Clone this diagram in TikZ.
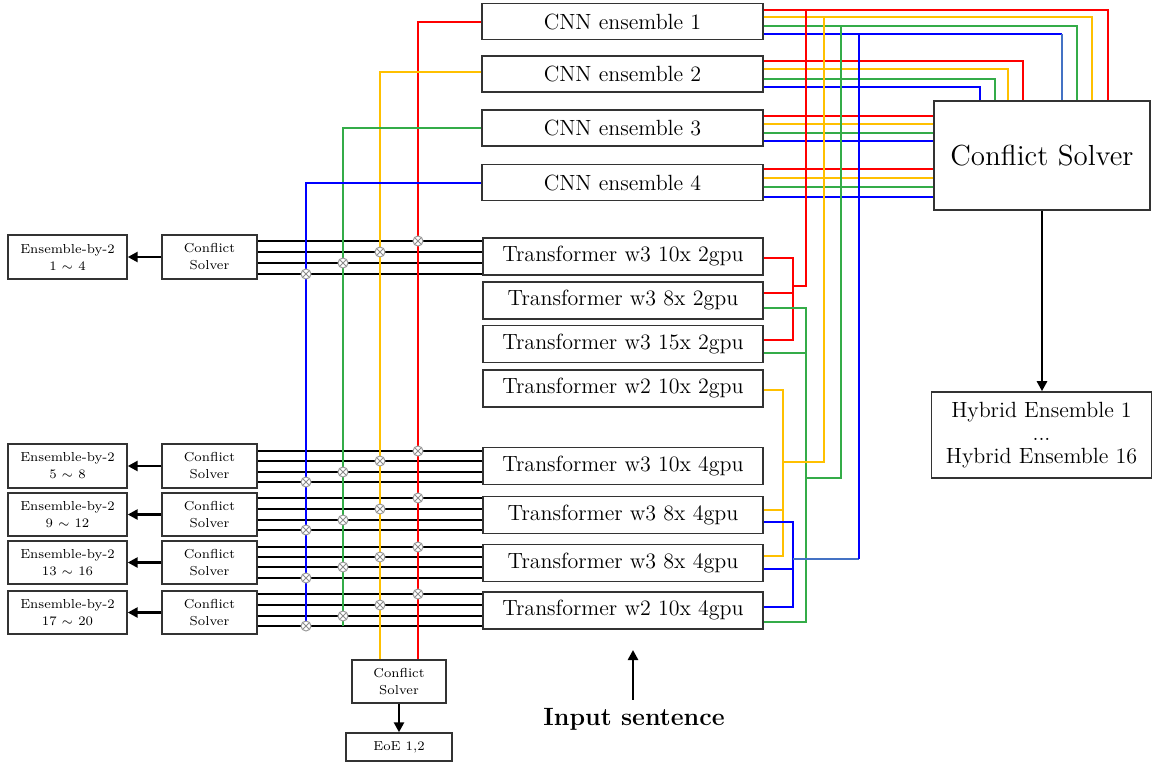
\documentclass[tikz,border=0pt]{standalone}
\usetikzlibrary{arrows.meta}
\definecolor{cred}{RGB}{255,0,0}
\definecolor{cyel}{RGB}{255,192,0}
\definecolor{cgrn}{RGB}{52,172,72}
\definecolor{cblu}{RGB}{0,0,255}
\definecolor{cblu2}{RGB}{68,114,196}
\begin{document}
\begin{tikzpicture}[x=0.5pt,y=-0.5pt,
  box/.style={draw=black!80, line width=0.8pt, inner sep=0pt, align=center, font=\fontsize{11}{12.5}\selectfont},
  sbox/.style={draw=black!80, line width=0.7pt, inner sep=0pt, align=center, font=\fontsize{6.5}{8.5}\selectfont},
  wire/.style={line width=1pt, black},
  cw/.style={line width=1pt},
  arr/.style={line width=1.3pt, -{Triangle[length=5pt,width=5pt]}},
  xdot/.style={circle, draw=black!40, fill=white, line width=0.5pt, minimum size=5pt, inner sep=0pt,
    path picture={\draw[black!45, line width=0.4pt]
      (path picture bounding box.north west) -- (path picture bounding box.south east)
      (path picture bounding box.north east) -- (path picture bounding box.south west);}}
]
\useasboundingbox (0,0) rectangle (1153,762);

% CNN ensembles
\node[box, minimum width=140.5pt, minimum height=18pt] (cnn1) at (622.5,21.5) {CNN ensemble 1};
\node[box, minimum width=140.5pt, minimum height=18pt] (cnn2) at (622.5,74) {CNN ensemble 2};
\node[box, minimum width=140.5pt, minimum height=18pt] (cnn3) at (622.5,128) {CNN ensemble 3};
\node[box, minimum width=140.5pt, minimum height=18pt] (cnn4) at (622.5,182.5) {CNN ensemble 4};

% Transformers
\node[box, minimum width=140pt, minimum height=18.5pt] (t1) at (623,256.5) {Transformer w3 10x 2gpu};
\node[box, minimum width=140pt, minimum height=18.5pt] (t2) at (623,300.5) {Transformer w3 8x 2gpu};
\node[box, minimum width=140pt, minimum height=18.5pt] (t3) at (623,344) {Transformer w3 15x 2gpu};
\node[box, minimum width=140pt, minimum height=18.5pt] (t4) at (623,388.5) {Transformer w2 10x 2gpu};
\node[box, minimum width=140pt, minimum height=18.5pt] (t5) at (623,466) {Transformer w3 10x 4gpu};
\node[box, minimum width=140pt, minimum height=18.5pt] (t6) at (623,515) {Transformer w3 8x 4gpu};
\node[box, minimum width=140pt, minimum height=18.5pt] (t7) at (623,563) {Transformer w3 8x 4gpu};
\node[box, minimum width=140pt, minimum height=18.5pt] (t8) at (623,610.5) {Transformer w2 10x 4gpu};

% big conflict solver and hybrid
\node[box, font=\fontsize{14.5}{16}\selectfont, minimum width=108pt, minimum height=54.5pt] (cs) at (1042,155.5) {Conflict Solver};
\node[box, minimum width=110pt, minimum height=43pt] (hyb) at (1041.5,435) {Hybrid Ensemble 1\\[-1pt]...\\[-1pt]Hybrid Ensemble 16};
\draw[arr] (cs.south -| 1042,0) -- (hyb.north -| 1042,0);

% left boxes
\node[sbox, minimum width=59.5pt, minimum height=22pt] (ens1) at (67.5,257) {Ensemble-by-2\\1 $\sim$ 4};
\node[sbox, minimum width=47.5pt, minimum height=22pt] (csl1) at (209.5,257) {Conflict\\Solver};
\node[sbox, minimum width=59.5pt, minimum height=22pt] (ens2) at (67.5,466) {Ensemble-by-2\\5 $\sim$ 8};
\node[sbox, minimum width=47.5pt, minimum height=22pt] (csl2) at (209.5,466) {Conflict\\Solver};
\node[sbox, minimum width=59.5pt, minimum height=21.5pt] (ens3) at (67.5,514.5) {Ensemble-by-2\\9 $\sim$ 12};
\node[sbox, minimum width=47.5pt, minimum height=21.5pt] (csl3) at (209.5,514.5) {Conflict\\Solver};
\node[sbox, minimum width=59.5pt, minimum height=21.5pt] (ens4) at (67.5,562.5) {Ensemble-by-2\\13 $\sim$ 16};
\node[sbox, minimum width=47.5pt, minimum height=21.5pt] (csl4) at (209.5,562.5) {Conflict\\Solver};
\node[sbox, minimum width=59.5pt, minimum height=21.5pt] (ens5) at (67.5,612.5) {Ensemble-by-2\\17 $\sim$ 20};
\node[sbox, minimum width=47.5pt, minimum height=21.5pt] (csl5) at (209.5,612.5) {Conflict\\Solver};
\foreach \i in {1,...,5} \draw[arr] (csl\i.west) -- (ens\i.east);

% bottom conflict solver
\node[sbox, minimum width=47pt, minimum height=21.5pt] (csb) at (399,681.5) {Conflict\\Solver};
\node[sbox, minimum width=53pt, minimum height=14pt] (eoe) at (399,747) {EoE 1,2};
\draw[arr] (csb.south) -- (eoe.north);

% input sentence
\node[font=\bfseries\fontsize{12.5}{15}\selectfont, inner xsep=0pt, inner ysep=4pt] (inp) at (634,719) {Input sentence};
\coordinate (itop) at (633,650);
\draw[arr] (inp.north -| itop) -- (itop);

% black wires
\foreach \g/\t/\a/\b/\c/\d in {1/t1/241/252/263/274, 2/t5/451/461/472/482, 3/t6/498/509/520/530, 4/t7/547/557/567/578, 5/t8/594/605/616/626} {
  \foreach \yy in {\a,\b,\c,\d} \draw[wire] (csl\g.east |- 0,\yy) -- (\t.west |- 0,\yy);
}

% left coloured verticals
\coordinate (gend) at (343,626);
\coordinate (bend) at (306,626);
\draw[cw,cred] (cnn1.west |- 0,22) -| (csb.north -| 418,0);
\draw[cw,cyel] (cnn2.west |- 0,72) -| (csb.north -| 380,0);
\draw[cw,cgrn] (cnn3.west |- 0,128) -| (gend);
\draw[cw,cblu] (cnn4.west |- 0,183) -| (bend);

% CNN -> big conflict solver
\draw[cw,cred] (cnn1.east |- 0,10) -| (cs.north -| 1108,0);
\draw[cw,cyel] (cnn1.east |- 0,17) -| (cs.north -| 1092,0);
\draw[cw,cgrn] (cnn1.east |- 0,26) -| (cs.north -| 1077,0);
\draw[cw,cblu] (cnn1.east |- 0,34) -- (1062,34);
\draw[cw,cblu2] (1062,34) -- (cs.north -| 1062,0);
\draw[cw,cred] (cnn2.east |- 0,61) -| (cs.north -| 1023,0);
\draw[cw,cyel] (cnn2.east |- 0,69) -| (cs.north -| 1008,0);
\draw[cw,cgrn] (cnn2.east |- 0,79) -| (cs.north -| 995,0);
\draw[cw,cblu] (cnn2.east |- 0,87) -| (cs.north -| 980,0);
\draw[cw,cred] (cnn3.east |- 0,116) -- (cs.west |- 0,116);
\draw[cw,cyel] (cnn3.east |- 0,124) -- (cs.west |- 0,124);
\draw[cw,cgrn] (cnn3.east |- 0,133) -- (cs.west |- 0,133);
\draw[cw,cblu] (cnn3.east |- 0,141) -- (cs.west |- 0,141);
\draw[cw,cred] (cnn4.east |- 0,169) -- (cs.west |- 0,169);
\draw[cw,cyel] (cnn4.east |- 0,178) -- (cs.west |- 0,178);
\draw[cw,cgrn] (cnn4.east |- 0,187) -- (cs.west |- 0,187);
\draw[cw,cblu] (cnn4.east |- 0,197) -- (cs.west |- 0,197);

% transformer right-side connections
\coordinate (jr) at (806,10);
\coordinate (jy) at (824,17);
\coordinate (jg) at (841,26);
\coordinate (jb) at (859,34);
\draw[cw,cred] (t1.east |- 0,258) -- (793,258) -- (793,340) -- (t3.east |- 0,340);
\draw[cw,cred] (t2.east |- 0,293) -- (793,293);
\draw[cw,cred] (793,286) -| (jr);
\draw[cw,cgrn] (t2.east |- 0,308) -- (806,308) -- (806,622) -- (t8.east |- 0,622);
\draw[cw,cgrn] (t3.east |- 0,353) -- (806,353);
\draw[cw,cgrn] (806,478) -| (jg);
\draw[cw,cyel] (t4.east |- 0,390) -- (783,390) -- (783,556) -- (t7.east |- 0,556);
\draw[cw,cyel] (t6.east |- 0,510) -- (783,510);
\draw[cw,cyel] (783,462) -| (jy);
\draw[cw,cblu] (t6.east |- 0,522) -- (793,522) -- (793,607) -- (t8.east |- 0,607);
\draw[cw,cblu] (t7.east |- 0,569) -- (793,569);
\draw[cw,cblu2] (793,559) -- (859,559);
\draw[cw,cblu] (859,559) -- (jb);

% crossing marks
\foreach \g/\a/\b/\c/\d in {1/241/252/263/274, 2/451/461/472/482, 3/498/509/520/530, 4/547/557/567/578, 5/594/605/616/626} {
  \node[xdot] (xr\g) at (418,\a) {};
  \node[xdot] (xy\g) at (380,\b) {};
  \node[xdot] (xg\g) at (343,\c) {};
  \node[xdot] (xb\g) at (306,\d) {};
}
\end{tikzpicture}
\end{document}
